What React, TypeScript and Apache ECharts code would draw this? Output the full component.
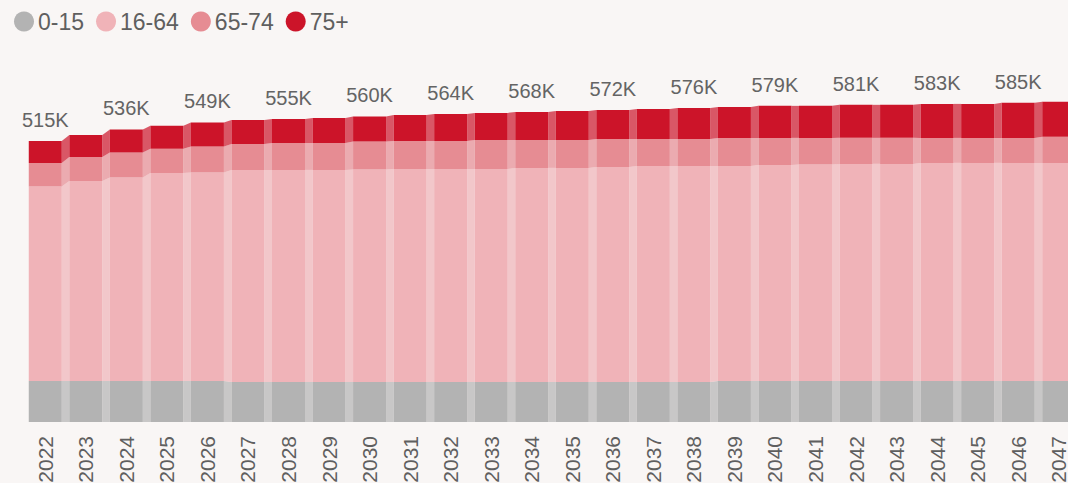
import React, { useEffect, useRef } from 'react';
import * as echarts from 'echarts';

const years = [
  '2022', '2023', '2024', '2025', '2026', '2027', '2028', '2029', '2030', '2031', '2032', '2033', '2034',
  '2035', '2036', '2037', '2038', '2039', '2040', '2041', '2042', '2043', '2044', '2045', '2046', '2047',
];

// thousands
const age0to15 = [
  75.2, 75.2, 75.2, 75.2, 75.2, 73.3, 73.3, 73.3, 73.3, 73.3, 73.3, 73.3, 73.3,
  73.3, 73.3, 73.3, 73.3, 75.2, 75.2, 75.2, 75.2, 75.2, 75.2, 75.2, 75.2, 75.2,
];
const age16to64 = [
  356.2, 366.6, 372.9, 381.3, 382.1, 388.6, 388.6, 388.6, 389.6, 390.4, 390.2, 390.4, 392.3,
  392.3, 394.1, 395.9, 396.0, 394.1, 395.9, 396.8, 397.8, 397.8, 399.6, 399.6, 399.6, 399.6,
];
const age65to74 = [
  43.4, 44.0, 45.8, 44.0, 47.7, 47.7, 49.5, 49.5, 51.3, 51.3, 51.3, 53.2, 51.3,
  51.3, 51.3, 49.5, 49.5, 51.3, 49.5, 48.6, 47.7, 47.7, 45.8, 45.8, 45.8, 47.7,
];
const age75plus = [
  40.3, 40.3, 42.2, 42.2, 44.0, 44.0, 44.0, 45.8, 45.8, 47.7, 49.5, 49.5, 51.3,
  53.2, 53.2, 55.0, 56.8, 56.8, 58.7, 58.7, 60.5, 60.5, 62.3, 62.3, 64.2, 64.2,
];

const seriesNames = ['0-15', '16-64', '65-74', '75+'];
const seriesValues = [age0to15, age16to64, age65to74, age75plus];
const colors = ['#b3b3b3', '#f0b3b8', '#e68c93', '#cc1429'];

const FONT = 'Arial, "Liberation Sans", sans-serif';
const BAR_W = 33;

export default function App() {
  const ref = useRef<HTMLDivElement>(null);

  useEffect(() => {
    document.documentElement.style.overflow = 'hidden';
    document.body.style.margin = '0';
    document.body.style.overflow = 'hidden';
    document.body.style.background = '#f9f6f5';
    if (!ref.current) return;
    const chart = echarts.init(ref.current, undefined, { renderer: 'svg', width: 1068, height: 483 });

    const totals = years.map((_, i) => seriesValues.reduce((s, arr) => s + arr[i], 0));

    const barSeries = seriesNames.map((name, s) => ({
      name,
      type: 'bar',
      stack: 'pop',
      barWidth: BAR_W,
      data: seriesValues[s],
      itemStyle: { color: colors[s] },
      label:
        s === 3
          ? {
              show: true,
              position: 'top',
              distance: 11,
              fontSize: 20,
              fontFamily: FONT,
              color: '#646464',
              formatter: (p: any) => (p.dataIndex % 2 === 0 ? Math.round(totals[p.dataIndex]) + 'K' : ''),
            }
          : { show: false },
      z: 3,
    }));

    const connector = {
      type: 'custom',
      silent: true,
      z: 2,
      data: years.slice(0, -1).map((_, i) => [i, 0]),
      encode: { x: 0, y: 1 },
      renderItem: (_params: any, api: any) => {
        const i = api.value(0);
        const half = BAR_W / 2;
        const xa = api.coord([i, 0])[0] + half;
        const xb = api.coord([i + 1, 0])[0] - half;
        let c0 = 0;
        let c1 = 0;
        const children: any[] = [];
        for (let s = 0; s < seriesValues.length; s++) {
          const a = seriesValues[s][i];
          const b = seriesValues[s][i + 1];
          const ya0 = api.coord([i, c0])[1];
          const ya1 = api.coord([i, c0 + a])[1];
          const yb0 = api.coord([i + 1, c1])[1];
          const yb1 = api.coord([i + 1, c1 + b])[1];
          children.push({
            type: 'polygon',
            shape: { points: [[xa, ya0], [xa, ya1], [xb, yb1], [xb, yb0]] },
            style: { fill: colors[s], opacity: 0.7 },
          });
          c0 += a;
          c1 += b;
        }
        return { type: 'group', children };
      },
    };

    chart.setOption({
      animation: false,
      backgroundColor: '#f9f6f5',
      legend: {
        data: seriesNames,
        left: 14,
        top: 10,
        padding: 0,
        icon: 'circle',
        itemWidth: 20,
        itemHeight: 20,
        itemGap: 12,
        textStyle: { fontSize: 23, fontFamily: FONT, color: '#5f5f5f', padding: [0, 0, 0, -1] },
      },
      grid: {
        left: 25,
        top: 40,
        width: 1054,
        height: 382,
        containLabel: false,
        outerBoundsMode: 'none',
      },
      xAxis: {
        type: 'category',
        data: years,
        axisLine: { show: false },
        axisTick: { show: false },
        axisLabel: { rotate: 90, fontSize: 21, fontFamily: FONT, color: '#5f5f5f', margin: 14, interval: 0 },
      },
      yAxis: {
        type: 'value',
        min: 0,
        max: 700,
        show: false,
        splitLine: { show: false },
      },
      series: [connector, ...barSeries],
    });

    return () => chart.dispose();
  }, []);

  return (
    <div
      ref={ref}
      style={{ position: 'fixed', left: 0, top: 0, width: 1068, height: 483, overflow: 'hidden' }}
    />
  );
}
